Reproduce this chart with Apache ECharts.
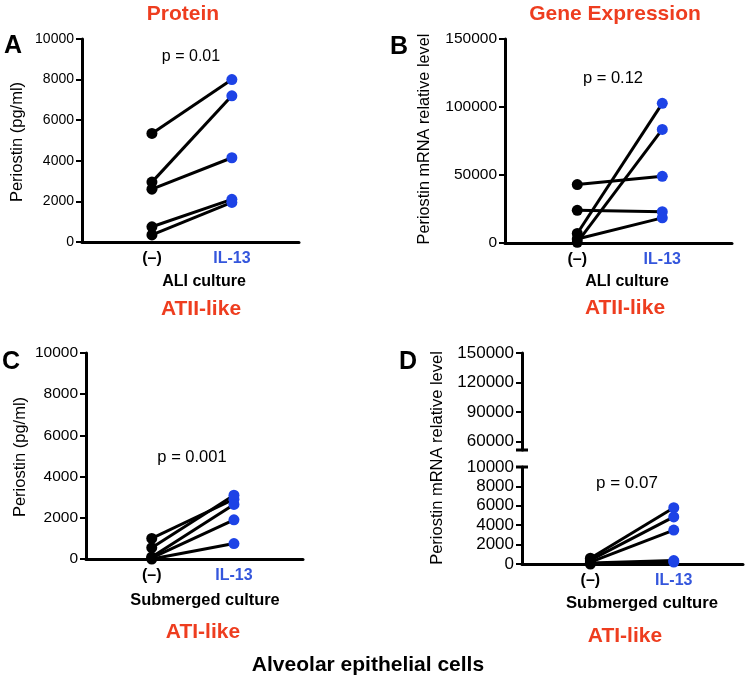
<!DOCTYPE html>
<html><head><meta charset="utf-8">
<script src="https://cdn.jsdelivr.net/npm/echarts@6/dist/echarts.min.js"></script>
<style>html,body{margin:0;padding:0;background:#fff}#c{width:747px;height:682px}</style>
</head><body><div id="c"></div>
<script>
// ---- data ----
const categories = ['(–)', 'IL-13'];
const proteinALI_ctrl = [5350, 2950, 2600, 750, 350];
const proteinALI_il13 = [8000, 7200, 4150, 2100, 1950];
const geneALI_ctrl = [43000, 24000, 7000, 3000, 500];
const geneALI_il13 = [49000, 23000, 102700, 18500, 83500];
const proteinSub_ctrl = [1000, 550, 100, 50, 0];
const proteinSub_il13 = [2900, 3100, 2650, 1900, 750];
const geneSub_ctrl = [600, 400, 200, 100, 0];
const geneSub_il13 = [5800, 4850, 3500, 350, 200];
const ticksProtein = [0, 2000, 4000, 6000, 8000, 10000];
const ticksGeneALI = [0, 50000, 100000, 150000];
const ticksGeneSubTop = [60000, 90000, 120000, 150000];
const ticksGeneSubBottom = [0, 2000, 4000, 6000, 8000, 10000];

const FONT = "'Liberation Sans', Arial, sans-serif";
const RED = '#ee3d1f';
const BLUE_TXT = '#3456dc';
const BLUE_PT = '#1d43e6';

const chart = echarts.init(document.getElementById('c'), null, {renderer: 'canvas'});

const grids = [
  {left: 82, top: 39, width: 217, height: 203},   // A
  {left: 505, top: 39, width: 227, height: 204},  // B
  {left: 86, top: 353, width: 217, height: 206},  // C
  {left: 522, top: 353, width: 221, height: 97},  // D top
  {left: 522, top: 467, width: 221, height: 97}   // D bottom
];

function xAx(gi, min, max, show, fs) {
  return {
    type: 'value', gridIndex: gi, min: min, max: max, show: show,
    axisLine: {show: true, onZero: false, lineStyle: {color: '#000', width: 3}},
    axisTick: {show: false}, splitLine: {show: false},
    axisLabel: {
      customValues: [0, 1], margin: 9,
      formatter: v => v === 0 ? '{a|' + categories[0] + '}' : '{b|' + categories[1] + '}',
      rich: {
        a: {fontFamily: FONT, fontWeight: 'bold', fontSize: fs, color: '#000'},
        b: {fontFamily: FONT, fontWeight: 'bold', fontSize: fs, color: BLUE_TXT}
      }
    }
  };
}
function yAx(gi, min, max, ticks, fs) {
  return {
    type: 'value', gridIndex: gi, min: min, max: max, position: 'left',
    axisLine: {show: true, onZero: false, lineStyle: {color: '#000', width: 3}},
    axisTick: {show: true, inside: false, length: 6, lineStyle: {color: '#000', width: 2}, customValues: ticks},
    axisLabel: {customValues: ticks, fontFamily: FONT, fontSize: fs, color: '#000', margin: 8,
      formatter: v => String(v)},
    splitLine: {show: false}
  };
}

const xAxes = [
  xAx(0, -0.875, 1.84, true, 16),
  xAx(1, -0.85, 1.82, true, 16),
  xAx(2, -0.80, 1.84, true, 16),
  xAx(3, -0.82, 1.83, false, 16),
  xAx(4, -0.82, 1.83, true, 16)
];
const yAxes = [
  yAx(0, 0, 10000, ticksProtein, 14),
  yAx(1, 0, 150000, ticksGeneALI, 15.5),
  yAx(2, 0, 10000, ticksProtein, 15.5),
  yAx(3, 51500, 150000, ticksGeneSubTop, 17),
  yAx(4, 0, 10000, ticksGeneSubBottom, 17)
];

const series = [];
function addPairs(idx, ctrl, il13) {
  for (let i = 0; i < ctrl.length; i++) {
    series.push({
      type: 'line', xAxisIndex: idx, yAxisIndex: idx, silent: true, animation: false,
      symbol: 'circle', symbolSize: 11, showSymbol: true,
      lineStyle: {color: '#000', width: 3},
      data: [
        {value: [0, ctrl[i]], itemStyle: {color: '#000'}},
        {value: [1, il13[i]], itemStyle: {color: BLUE_PT}}
      ]
    });
  }
}
addPairs(0, proteinALI_ctrl, proteinALI_il13);
addPairs(1, geneALI_ctrl, geneALI_il13);
addPairs(2, proteinSub_ctrl, proteinSub_il13);
series.push({type: 'scatter', xAxisIndex: 3, yAxisIndex: 3, data: []});
addPairs(4, geneSub_ctrl, geneSub_il13);

function txt(text, x, y, size, opts) {
  opts = opts || {};
  return {
    type: 'text', x: x, y: y, rotation: opts.rot || 0, silent: true,
    style: {
      text: text, x: 0, y: 0, align: 'center', verticalAlign: 'middle',
      font: (opts.bold ? 'bold ' : '') + size + 'px ' + FONT,
      fill: opts.color || '#000'
    }
  };
}

const texts = [
  txt('Protein', 183, 14, 21, {bold: true, color: RED}),
  txt('Gene Expression', 615, 14, 21, {bold: true, color: RED}),
  txt('A', 13, 46, 25, {bold: true}),
  txt('B', 399, 47, 25, {bold: true}),
  txt('C', 11, 362, 25, {bold: true}),
  txt('D', 408, 362, 25, {bold: true}),
  txt('p = 0.01', 191, 57, 16),
  txt('p = 0.12', 613, 78, 16.5),
  txt('p = 0.001', 192, 457, 16.5),
  txt('p = 0.07', 627, 483, 17),
  txt('Periostin (pg/ml)', 17, 142, 16.5, {rot: Math.PI / 2}),
  txt('Periostin mRNA relative level', 425, 139, 16.3, {rot: Math.PI / 2}),
  txt('Periostin (pg/ml)', 20, 457, 16.5, {rot: Math.PI / 2}),
  txt('Periostin mRNA relative level', 437, 458, 16.5, {rot: Math.PI / 2}),
  txt('ALI culture', 204, 282, 16, {bold: true}),
  txt('ALI culture', 627, 282, 16, {bold: true}),
  txt('ATII-like', 201, 309, 21, {bold: true, color: RED}),
  txt('ATII-like', 625, 308, 21, {bold: true, color: RED}),
  txt('Submerged culture', 205, 600, 16.4, {bold: true}),
  txt('Submerged culture', 642, 603, 16.7, {bold: true}),
  txt('ATI-like', 203, 632, 21, {bold: true, color: RED}),
  txt('ATI-like', 625, 636, 21, {bold: true, color: RED}),
  txt('Alveolar epithelial cells', 368, 665, 21, {bold: true})
];

chart.setOption({
  backgroundColor: '#fff',
  animation: false,
  grid: grids,
  xAxis: xAxes,
  yAxis: yAxes,
  series: series,
  graphic: texts
});

// axis-break markers for panel D
const pTop = chart.convertToPixel({gridIndex: 3}, [-0.82, 51500]);
const pBot = chart.convertToPixel({gridIndex: 4}, [-0.82, 10000]);
const brk = [pTop, pBot].map(p => ({
  type: 'line', silent: true,
  shape: {x1: p[0] - 6, y1: p[1], x2: p[0] + 6, y2: p[1]},
  style: {stroke: '#000', lineWidth: 3}
}));
chart.setOption({graphic: texts.concat(brk)});
</script>
</body></html>
